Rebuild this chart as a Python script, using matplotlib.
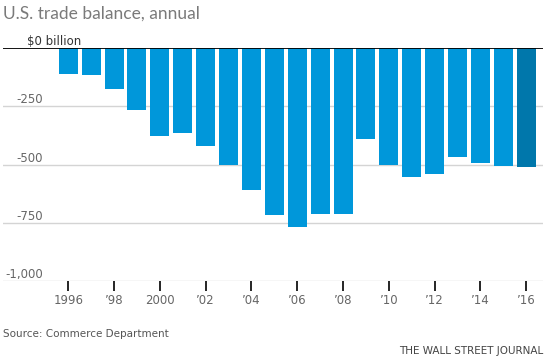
import matplotlib.pyplot as plt

# Data (billions of dollars)
years = list(range(1996, 2017))
balance = [-109, -113, -175, -263, -375, -366, -422, -500, -611, -718,
           -766, -710, -710, -388, -500, -551, -542, -465, -495, -504, -508]

tick_years = list(range(1996, 2017, 2))
tick_labels = ["1996", "\u201998", "2000", "\u201902", "\u201904", "\u201906",
               "\u201908", "\u201910", "\u201912", "\u201914", "\u201916"]
y_ticks = [-250, -500, -750, -1000]
y_labels = ["-250", "-500", "-750", "-1,000"]

W, H = 546, 358
fig = plt.figure(figsize=(W / 100, H / 100), dpi=100, facecolor="white")
ax = fig.add_axes([3 / W, (H - 281) / H, 540 / W, (281 - 48.3) / H])

colors = ["#0097da"] * (len(years) - 1) + ["#0077ab"]
ax.bar(years, balance, width=0.83, color=colors, zorder=3)

ax.set_xlim(1993.15, 2016.73)
ax.set_ylim(-1000, 0)

# gridlines and zero line
for v in y_ticks:
    ax.axhline(v, color="#d4d4d4", lw=1, zorder=1)
ax.axhline(0, color="black", lw=1.3, zorder=4)

for s in ax.spines.values():
    s.set_visible(False)
ax.set_yticks([])
ax.set_xticks(tick_years)
ax.set_xticklabels(tick_labels)
ax.tick_params(axis="x", length=7, width=1.2, color="black", pad=2,
               labelsize=8.5, labelcolor="#666666")

# y labels above gridlines
trans = ax.get_yaxis_transform()
for v, lab in zip(y_ticks, y_labels):
    ax.text(40 / 540, v, lab, transform=trans, ha="right", va="bottom",
            fontsize=8.5, color="#666666")
ax.text(24 / 540, 0, "$0 billion", transform=trans, ha="left", va="bottom",
        fontsize=8.5, color="#333333")

fig.text(3 / W, 1 - 14 / H, "U.S. trade balance, annual", ha="left",
         va="center", fontsize=12.5, color="#7a7a7a", family="Lato")
fig.text(3 / W, 1 - 334 / H, "Source: Commerce Department", ha="left",
         va="center", fontsize=7.5, color="#555555")
fig.text(543 / W, 1 - 351 / H, "THE WALL STREET JOURNAL", ha="right",
         va="center", fontsize=7.5, color="#444444")

fig.savefig("out.png", dpi=100)
